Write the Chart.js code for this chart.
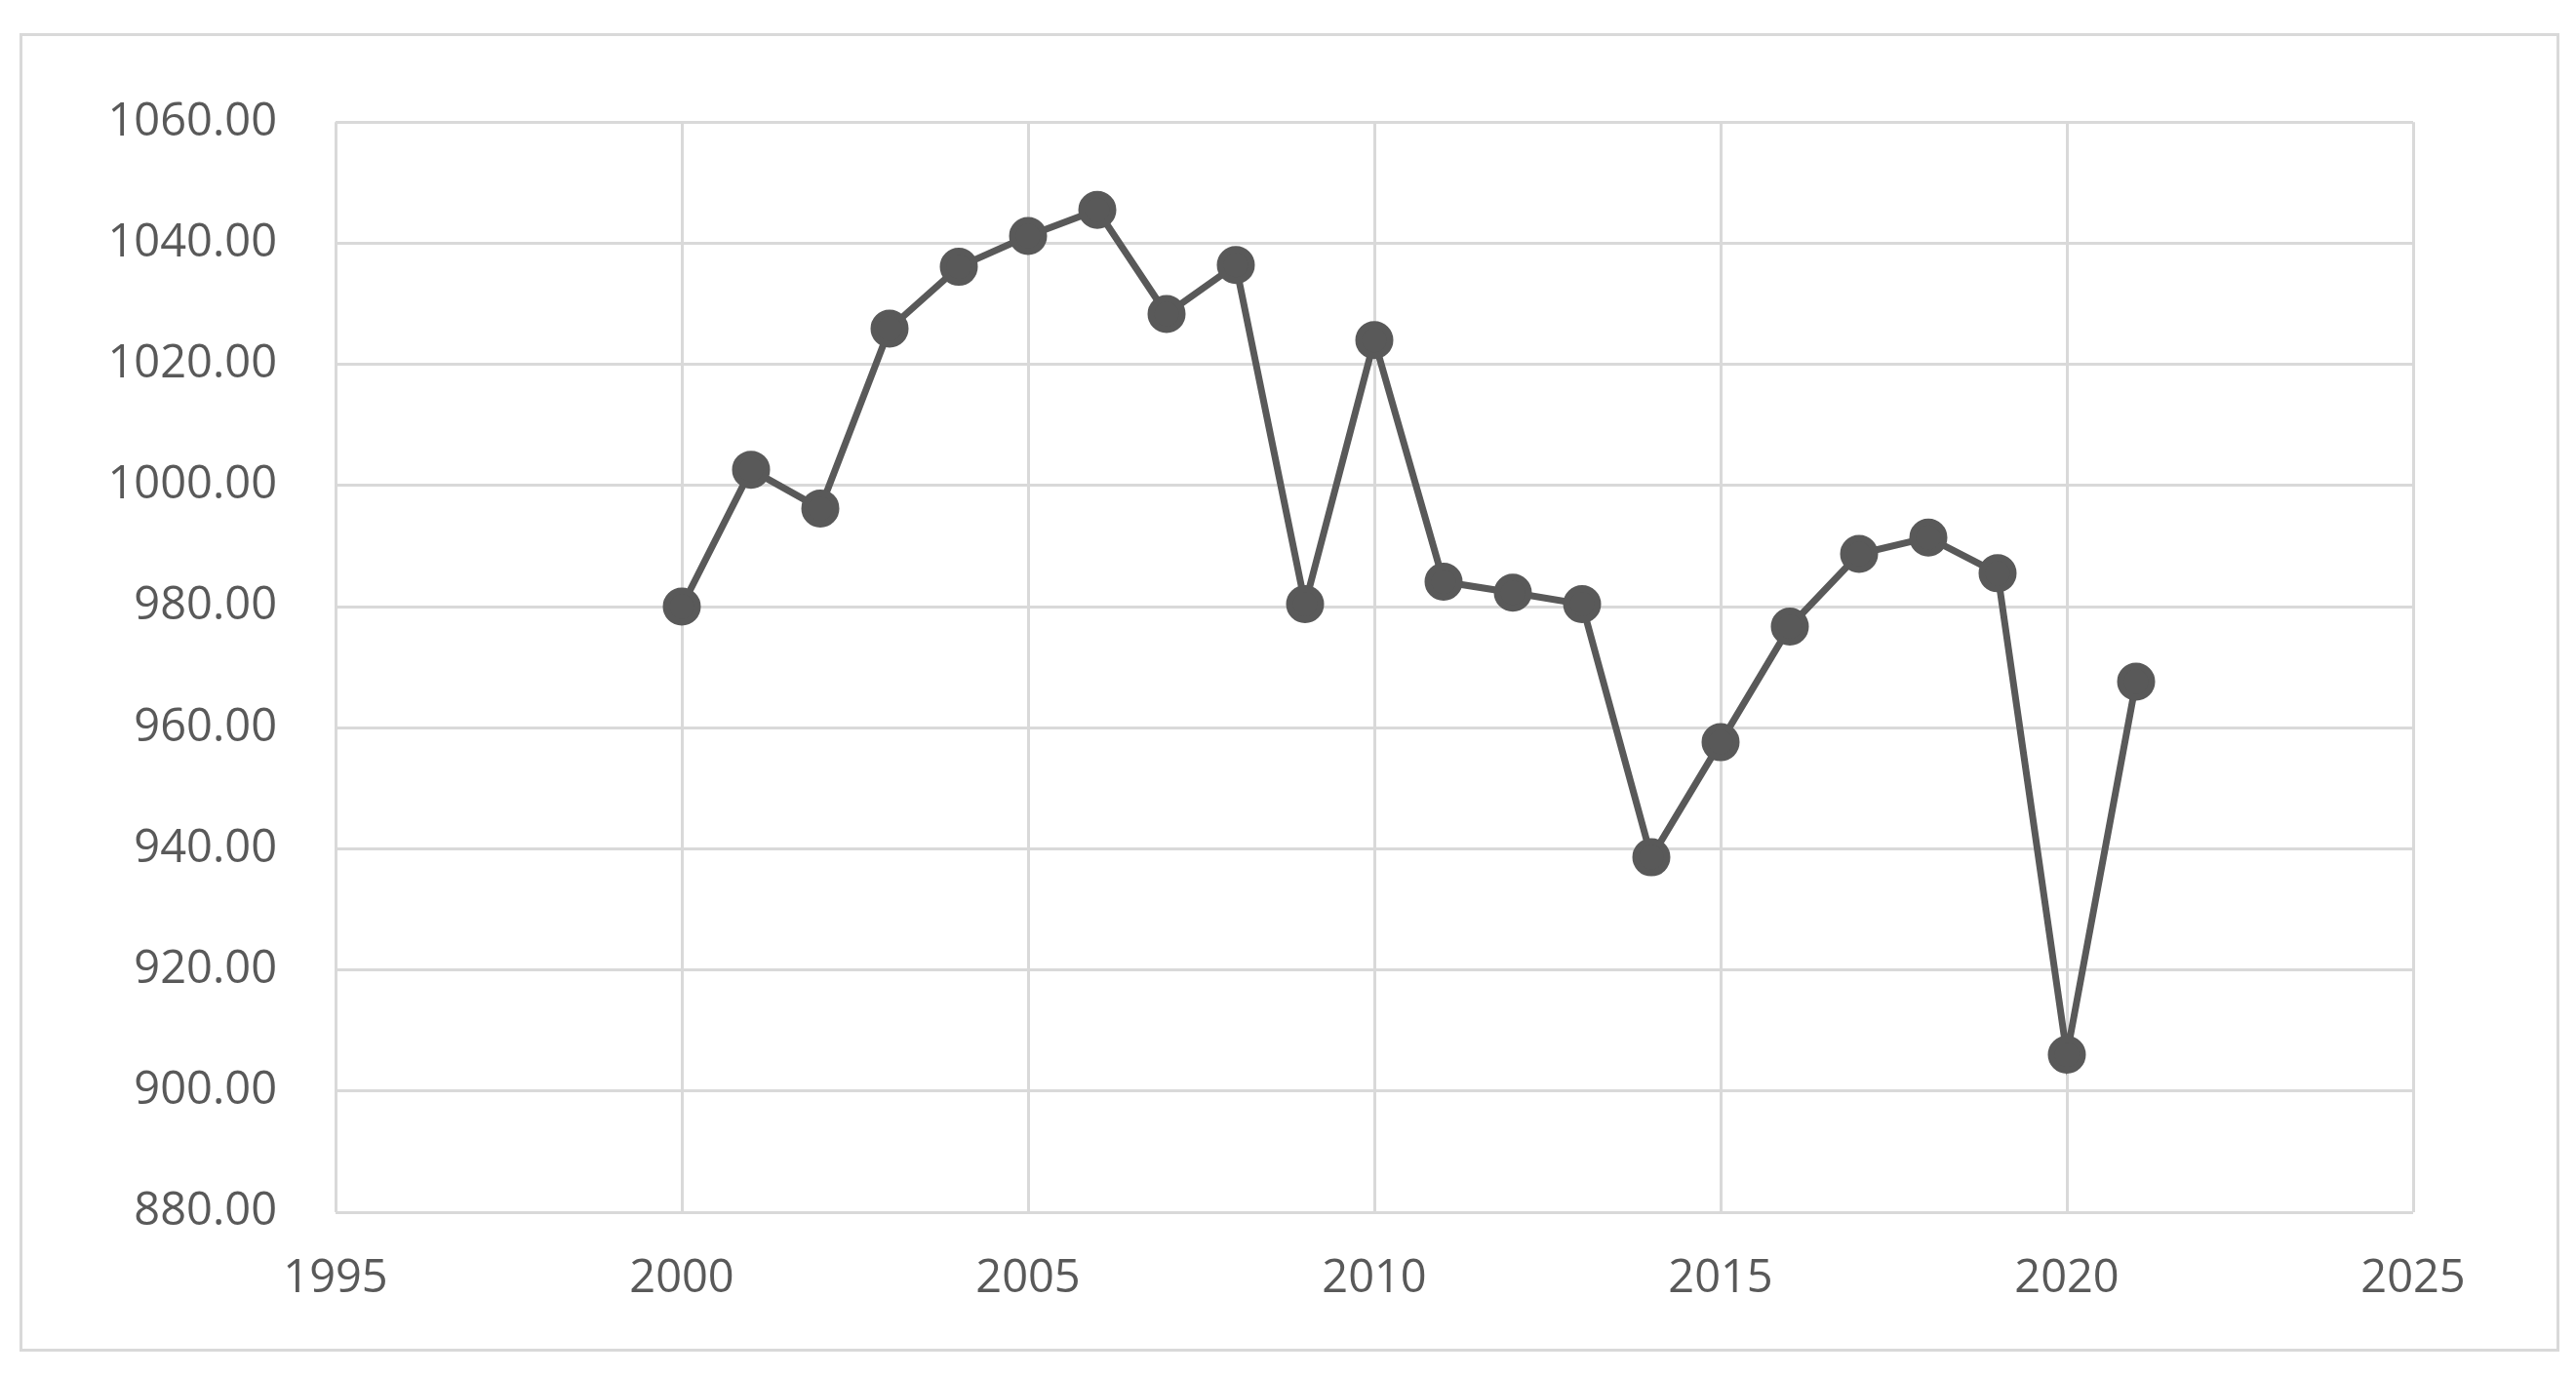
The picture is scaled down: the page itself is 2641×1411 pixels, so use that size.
<!DOCTYPE html>
<html>
<head>
<meta charset="utf-8">
<script src="https://cdn.jsdelivr.net/npm/chart.js@4"></script>
<style>
  html, body { margin: 0; padding: 0; background: #fff; }
  #box {
    position: absolute; left: 20px; top: 34px;
    width: 2598px; height: 1346px;
    border: 3px solid #d9d9d9;
  }
</style>
</head>
<body>
<div id="box"><canvas id="chart"></canvas></div>
<script>
const years = [2000, 2001, 2002, 2003, 2004, 2005, 2006, 2007, 2008, 2009, 2010,
               2011, 2012, 2013, 2014, 2015, 2016, 2017, 2018, 2019, 2020, 2021];
const values = [980.0, 1002.6, 996.2, 1025.9, 1036.1, 1041.2, 1045.5, 1028.3, 1036.4, 980.4, 1024.0,
                984.1, 982.3, 980.4, 938.6, 957.6, 976.7, 988.7, 991.4, 985.5, 906.0, 967.6];

const gray = '#595959';
const gridColor = '#d9d9d9';
const font = { family: '"Open Sans", "DejaVu Sans", sans-serif', size: 47 };

const ctx = document.getElementById('chart').getContext('2d');
new Chart(ctx, {
  type: 'line',
  data: {
    datasets: [{
      data: years.map((y, i) => ({ x: y, y: values[i] })),
      borderColor: gray,
      backgroundColor: gray,
      borderWidth: 7,
      pointRadius: 16,
      pointHoverRadius: 16,
      tension: 0
    }]
  },
  options: {
    responsive: true,
    maintainAspectRatio: false,
    animation: false,
    layout: { padding: { top: 50, right: 147, left: 0, bottom: 0 } },
    plugins: { legend: { display: false }, tooltip: { enabled: false } },
    scales: {
      x: {
        type: 'linear',
        min: 1995, max: 2025,
        afterFit: s => { s.height = 140; },
        grid: { color: gridColor, lineWidth: 3, drawTicks: false },
        border: { display: false },
        ticks: {
          stepSize: 5, padding: 40, color: gray, font,
          callback: v => String(v)
        }
      },
      y: {
        min: 880, max: 1060,
        afterFit: s => { s.width = 321; },
        grid: { color: gridColor, lineWidth: 3, drawTicks: false },
        border: { display: false },
        ticks: {
          stepSize: 20, padding: 60, color: gray, font,
          callback: v => v.toFixed(2)
        }
      }
    }
  }
});
</script>
</body>
</html>
